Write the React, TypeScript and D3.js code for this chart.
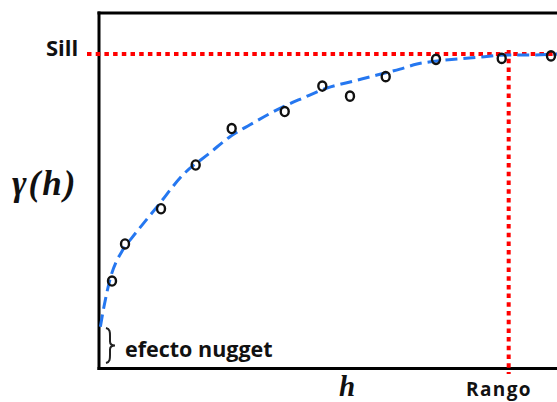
import React from "react";
import * as d3 from "d3";

// Experimental semivariogram: lag distance h vs. semivariance γ(h)
const lagH = [2.84, 5.68, 13.54, 21.11, 28.97, 40.55, 48.76, 54.8, 62.6, 73.58, 87.93, 98.69];
const gammaObs = [0.278, 0.396, 0.508, 0.647, 0.763, 0.817, 0.898, 0.866, 0.928, 0.983, 0.986, 0.994];

// Fitted model curve (sampled)
const modelH = [0.3, 1.09, 2.4, 5.24, 7.21, 12.66, 18.34, 24.24, 28.6, 32.97, 40.17, 44.54, 49.78, 54.8, 60.7, 65.72, 69.43, 73.8, 78.17, 83.19, 89.08, 94.76, 100];
const modelGamma = [0.133, 0.197, 0.283, 0.378, 0.416, 0.514, 0.616, 0.686, 0.737, 0.775, 0.832, 0.86, 0.892, 0.911, 0.933, 0.952, 0.968, 0.978, 0.984, 0.99, 0.997, 0.997, 1.0];

const sill = 1.0;
const range = 89.45;

const W = 557;
const H = 402;

export default function App() {
  const x = d3.scaleLinear().domain([0, 100]).range([99, 557]);
  const y = d3.scaleLinear().domain([0, 1]).range([368.5, 54]);

  const modelPts: [number, number][] = modelH.map((h, i) => [h, modelGamma[i]]);
  const line = d3
    .line<[number, number]>()
    .x((d) => x(d[0]))
    .y((d) => y(d[1]))
    .curve(d3.curveMonotoneX);

  const sans = "'Open Sans', sans-serif";
  const serif = "'Liberation Serif', 'Times New Roman', serif";

  const bx = 106;
  const by0 = 328;
  const by1 = 363;
  const bm = (by0 + by1) / 2;
  const brace = `M${bx},${by0} C${bx + 4},${by0 + 1} ${bx + 4},${by0 + 4} ${bx + 4},${by0 + 8} L${bx + 4},${bm - 4} C${bx + 4},${bm - 1} ${bx + 6},${bm} ${bx + 9},${bm} C${bx + 6},${bm} ${bx + 4},${bm + 1} ${bx + 4},${bm + 4} L${bx + 4},${by1 - 8} C${bx + 4},${by1 - 4} ${bx + 4},${by1 - 1} ${bx},${by1}`;

  return (
    <svg
      width={W}
      height={H}
      viewBox={`0 0 ${W} ${H}`}
      style={{ position: "absolute", left: 0, top: 0, background: "#fff" }}
    >
      {/* frame */}
      <line x1={97.5} y1={13} x2={W} y2={13} stroke="#000" strokeWidth={3} />
      <line x1={99} y1={11.5} x2={99} y2={370} stroke="#000" strokeWidth={3} />
      <line x1={97.5} y1={368.5} x2={W} y2={368.5} stroke="#000" strokeWidth={3} />

      {/* sill and range guides */}
      <line
        x1={87}
        y1={y(sill)}
        x2={W}
        y2={y(sill)}
        stroke="#ff0000"
        strokeWidth={4}
        strokeDasharray="4.5 4.2"
      />
      <line
        x1={x(range)}
        y1={50}
        x2={x(range)}
        y2={374}
        stroke="#ff0000"
        strokeWidth={4}
        strokeDasharray="4.5 4.2"
      />

      {/* model curve */}
      <path
        d={line(modelPts) || ""}
        fill="none"
        stroke="#2577f0"
        strokeWidth={3}
        strokeDasharray="12 6"
      />

      {/* observed semivariance */}
      {lagH.map((h, i) => (
        <ellipse
          key={i}
          cx={x(h)}
          cy={y(gammaObs[i])}
          rx={4}
          ry={4.6}
          fill="none"
          stroke="#111"
          strokeWidth={2.4}
        />
      ))}

      {/* nugget brace */}
      <path d={brace} fill="none" stroke="#222" strokeWidth={2} />

      <text x={46} y={56} fontFamily={sans} fontWeight={700} fontSize={22} fill="#111">
        Sill
      </text>
      <text x={125} y={357} fontFamily={sans} fontWeight={700} fontSize={21.5} fill="#111">
        efecto nugget
      </text>
      <text
        x={466}
        y={396}
        fontFamily={sans}
        fontWeight={700}
        fontSize={19}
        letterSpacing={1.4}
        fill="#111"
      >
        Rango
      </text>
      <text
        x={12}
        y={195}
        fontFamily={serif}
        fontWeight={700}
        fontStyle="italic"
        fontSize={35}
        letterSpacing={2}
        fill="#111"
      >
        γ(h)
      </text>
      <text
        x={339}
        y={396}
        fontFamily={serif}
        fontWeight={700}
        fontStyle="italic"
        fontSize={29}
        fill="#111"
      >
        h
      </text>
    </svg>
  );
}
